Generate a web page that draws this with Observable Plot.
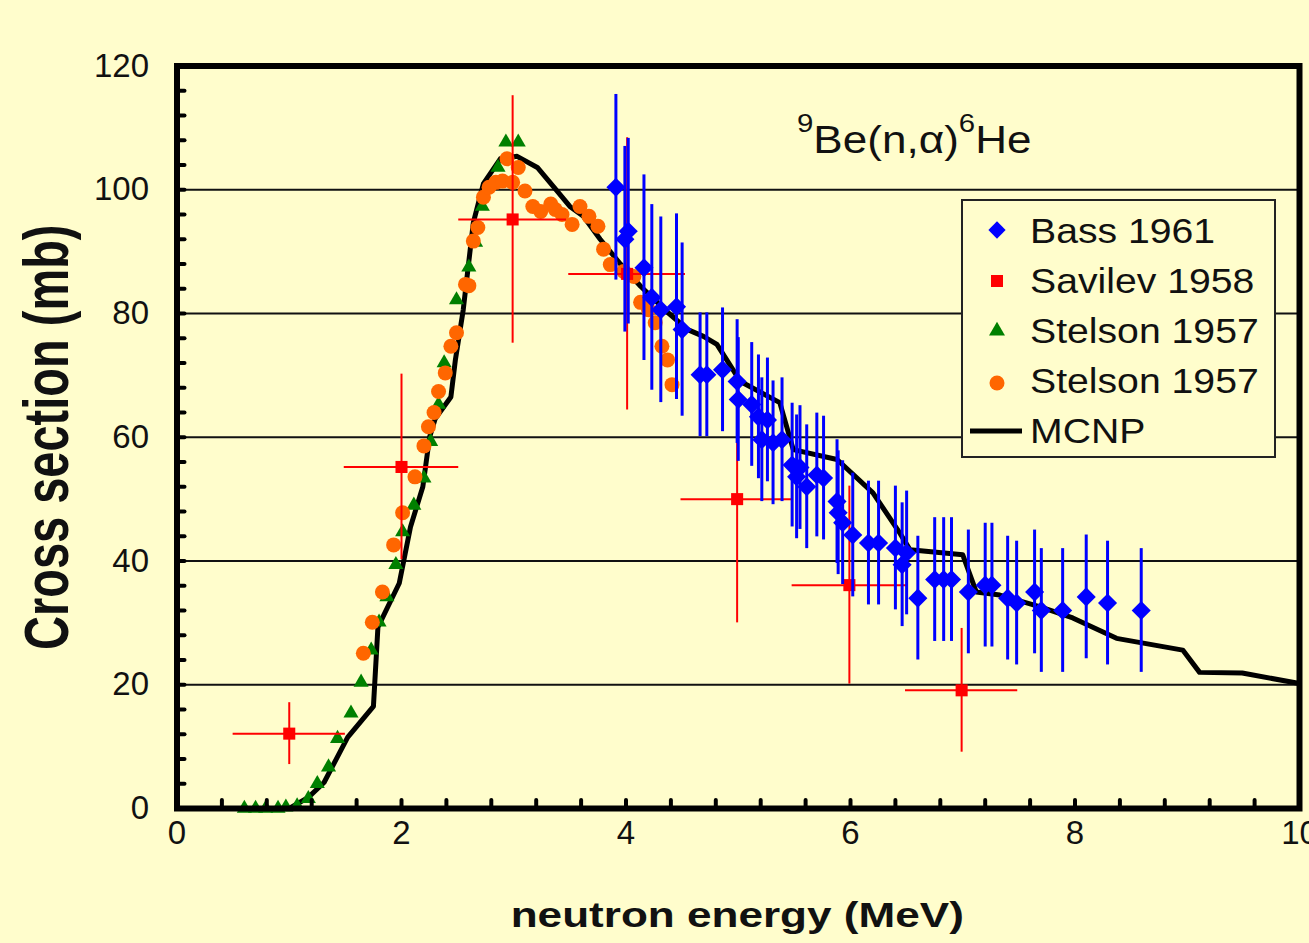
<!DOCTYPE html>
<html>
<head>
<meta charset="utf-8">
<script src="https://cdn.jsdelivr.net/npm/d3@7"></script>
<script src="https://cdn.jsdelivr.net/npm/@observablehq/plot@0.6"></script>
<style>
  html, body { margin: 0; padding: 0; background: #FFFDCC; overflow: hidden; }
  #wrap { position: relative; width: 1309px; height: 943px; }
  #overlay { position: absolute; left: 0; top: 0; pointer-events: none; }
</style>
</head>
<body>
<div id="wrap"></div>
<script>
// ---------------- data ----------------
// Bass 1961 (diamonds, vertical error bars)
const bassE   = [3.91,3.99,4.02,4.16,4.23,4.31,4.45,4.50,4.66,4.72,4.86,4.99,5.00,5.12,5.18,5.21,5.26,5.31,5.39,5.48,5.52,5.55,5.61,5.70,5.76,5.88,5.89,5.93,6.02,6.16,6.25,6.40,6.46,6.50,6.60,6.75,6.83,6.90,7.05,7.20,7.26,7.40,7.48,7.64,7.70,7.89,8.10,8.29,8.59];
const bassS   = [100.4,92.0,93.3,87.4,82.6,80.6,81.1,77.4,70.1,70.1,70.9,69.0,66.1,65.3,63.3,59.6,62.8,59.1,59.6,55.5,53.6,55.1,52.0,53.9,53.4,49.6,47.8,46.2,44.2,42.9,42.9,42.1,39.4,41.3,34.0,37.0,37.0,37.0,35.0,36.1,36.1,34.0,33.2,35.0,32.0,32.0,34.2,33.2,32.0];
const bassErr = [15,15,15,15,15,15,15,14,10,10,10,10,10,10,10,10,10,10,10,10,10,10,10,10,10,10,10,10,10,10,10,10,10,10,10,10,10,10,10,10,10,10,10,10,10,10,10,10,10];

// Savilev 1958 (squares, x and y error bars)
const savE  = [1.00, 2.00, 2.99, 4.01, 4.99, 5.99, 6.99];
const savS  = [12.1, 55.2, 95.2, 86.4, 50.0, 36.1, 19.1];
const savDE = [0.50, 0.51, 0.48, 0.52, 0.50, 0.51, 0.50];
const savDS = [5, 15, 20, 22, 20, 16, 10];

// Stelson 1957 (triangles)
const triE = [0.60,0.70,0.79,0.90,0.97,1.07,1.17,1.25,1.35,1.43,1.55,1.64,1.73,1.80,1.87,1.95,2.01,2.11,2.20,2.26,2.33,2.38,2.49,2.60,2.66,2.72,2.86,2.93,3.04];
const triS = [0.0,0.0,0.0,0.0,0.2,0.4,1.6,4.0,6.7,11.3,15.4,20.4,25.6,30.1,34.2,39.4,44.7,49.0,53.4,59.3,65.3,72.0,82.2,87.5,91.5,97.3,103.6,107.7,107.7];

// Stelson 1957 (circles)
const cirE = [1.66,1.74,1.83,1.93,2.01,2.12,2.20,2.24,2.29,2.33,2.39,2.44,2.49,2.57,2.60,2.64,2.68,2.73,2.78,2.84,2.90,2.94,2.99,3.04,3.10,3.17,3.24,3.33,3.37,3.43,3.52,3.59,3.67,3.75,3.80,3.86,3.98,4.07,4.13,4.20,4.26,4.32,4.37,4.41];
const cirS = [25.1,30.1,35.0,42.6,47.8,53.6,58.6,61.7,64.0,67.4,70.4,74.7,76.9,84.7,84.5,91.7,93.9,98.8,100.4,101.2,101.4,105.0,101.2,103.6,99.8,97.3,96.5,97.7,96.8,96.0,94.4,97.3,95.7,94.1,90.4,87.9,86.8,86.0,81.8,80.6,78.5,74.7,72.5,68.5];

// MCNP (line)
const mcnpE = [0.60,1.00,1.17,1.31,1.52,1.75,1.79,1.98,2.08,2.19,2.25,2.30,2.44,2.48,2.55,2.64,2.73,2.88,3.03,3.21,3.35,3.50,3.62,3.77,3.95,4.13,4.37,4.55,4.69,4.81,5.02,5.37,5.49,5.88,6.20,6.44,6.53,7.00,7.12,7.33,7.69,7.98,8.37,8.96,9.11,9.49,10.0];
const mcnpS = [0.0,0.0,1.8,4.2,11.5,16.5,29.3,36.4,45.5,52.0,60.0,63.0,66.5,72.5,80.6,94.7,101.0,105.0,105.4,103.6,100.6,97.3,95.7,92.0,88.0,84.4,80.2,77.4,76.3,75.0,69.0,65.6,58.0,56.4,51.0,44.5,41.8,41.0,35.0,34.5,32.6,30.8,27.5,25.6,22.0,21.9,20.2];

// axes
const xLabelTicks = [0, 2, 4, 6, 8, 10];
const yLabelTicks = [0, 20, 40, 60, 80, 100, 120];
const xMinorTicks = [0.4,0.8,1.2,1.6,2.0,2.4,2.8,3.2,3.6,4.0,4.4,4.8,5.2,5.6,6.0,6.4,6.8,7.2,7.6,8.0,8.4,8.8,9.2,9.6];
const yMinorTicks = [4,8,12,16,20,24,28,32,36,40,44,48,52,56,60,64,68,72,76,80,84,88,92,96,100,104,108,112,116];
const gridY = [20, 40, 60, 80, 100];

const xTitle = "neutron energy (MeV)";
const yTitle = "Cross section (mb)";
const seriesNames = ["Bass 1961", "Savilev 1958", "Stelson 1957", "Stelson 1957", "MCNP"];

// ---------------- tables ----------------
const bass = bassE.map((e, i) => ({E: e, S: bassS[i], err: bassErr[i]}));
const sav = savE.map((e, i) => ({E: e, S: savS[i], dE: savDE[i], dS: savDS[i]}));
const tri = triE.map((e, i) => ({E: e, S: triS[i]}));
const cir = cirE.map((e, i) => ({E: e, S: cirS[i]}));
const mcnp = mcnpE.map((e, i) => ({E: e, S: mcnpS[i]}));

const BG = "#FFFDCC";
const INK = "#111";
const FONT = "'Liberation Sans', Arial, sans-serif";

const chart = Plot.plot({
  width: 1309,
  height: 943,
  marginLeft: 176.5,
  marginRight: 10,
  marginTop: 65.5,
  marginBottom: 135,
  style: {background: BG, color: INK, fontFamily: FONT, fontSize: "33px"},
  x: {domain: [0, 10]},
  y: {domain: [0, 120]},
  marks: [
    Plot.ruleY(gridY, {stroke: INK, strokeWidth: 2}),
    Plot.line(mcnp, {x: "E", y: "S", stroke: "#000", strokeWidth: 5, strokeLinejoin: "round"}),
    Plot.dot(tri, {x: "E", y: "S", symbol: "triangle", r: 5.6, fill: "#008000"}),
    Plot.dot(cir, {x: "E", y: "S", r: 7.5, fill: "#FF6600"}),
    Plot.ruleX(sav, {x: "E", y1: d => d.S - d.dS, y2: d => d.S + d.dS, stroke: "#FF0000", strokeWidth: 2}),
    Plot.ruleY(sav, {y: "S", x1: d => d.E - d.dE, x2: d => d.E + d.dE, stroke: "#FF0000", strokeWidth: 2}),
    Plot.dot(sav, {x: "E", y: "S", symbol: "square", r: 6.8, fill: "#FF0000"}),
    Plot.ruleX(bass, {x: "E", y1: d => d.S - d.err, y2: d => d.S + d.err, stroke: "#0000FF", strokeWidth: 3}),
    Plot.dot(bass, {x: "E", y: "S", symbol: "diamond2", r: 8.6, fill: "#0000FF"}),
    Plot.frame({stroke: "#000", strokeWidth: 6}),
    Plot.axisX(xMinorTicks, {tickSize: 8, dy: -8, text: null, label: null, stroke: "#000", strokeWidth: 4, strokeLinecap: "round"}),
    Plot.axisY(yMinorTicks, {tickSize: 8, dx: 8, text: null, label: null, stroke: "#000", strokeWidth: 4, strokeLinecap: "round"}),
    Plot.axisX(xLabelTicks, {tickSize: 0, tickPadding: 12, label: null, fontSize: 33, tickFormat: d => String(d)}),
    Plot.axisY(yLabelTicks, {tickSize: 0, tickPadding: 28, label: null, fontSize: 33, tickFormat: d => String(d)}),
    Plot.text([xTitle], {frameAnchor: "bottom", dy: 118, dx: -1, text: d => d, textAnchor: "middle", fontSize: 35, fontWeight: "bold", fill: INK}),
    Plot.text([yTitle], {frameAnchor: "left", dx: -129.5, rotate: -90, text: d => d, textAnchor: "middle", fontSize: 47, fontWeight: "bold", fill: INK})
  ]
});

const wrap = document.getElementById("wrap");
wrap.appendChild(chart);

// horizontal stretch of the axis titles (the original fonts are wider)
function stretch(label, sx, sy) {
  d3.select(chart).selectAll("text").each(function() {
    if (this.textContent !== label) return;
    let t = this.getAttribute("transform");
    if (!t) {
      const x = this.getAttribute("x") || 0, y = this.getAttribute("y") || 0;
      this.removeAttribute("x"); this.removeAttribute("y");
      t = `translate(${x},${y})`;
    }
    this.setAttribute("transform", `${t} scale(${sx},${sy})`);
  });
}
stretch(xTitle, 1.26, 1);
stretch(yTitle, 1, 1.34);

// ---------------- legend + title overlay ----------------
const ov = d3.select(wrap).append("svg")
  .attr("id", "overlay").attr("width", 1309).attr("height", 943)
  .style("font-family", FONT);

// title 9Be(n,α)6He
const title = ov.append("text").attr("transform", "translate(797,153) scale(1.13,1)").attr("fill", INK);
title.append("tspan").attr("font-size", 26).attr("dy", -21).text("9");
title.append("tspan").attr("font-size", 39).attr("dy", 21).text("Be(n,α)");
title.append("tspan").attr("font-size", 26).attr("dy", -21).text("6");
title.append("tspan").attr("font-size", 39).attr("dy", 21).text("He");

// legend box
ov.append("rect").attr("x", 962).attr("y", 200).attr("width", 313).attr("height", 257)
  .attr("fill", BG).attr("stroke", "#222").attr("stroke-width", 2);
const mx = 997;
ov.append("path").attr("d", d3.symbol(d3.symbolDiamond2, 190)()).attr("transform", `translate(${mx},230)`).attr("fill", "#0000FF");
ov.append("path").attr("d", d3.symbol(d3.symbolSquare, 144)()).attr("transform", `translate(${mx},281)`).attr("fill", "#FF0000");
ov.append("path").attr("d", d3.symbol(d3.symbolTriangle, 110)()).attr("transform", `translate(${mx},331)`).attr("fill", "#008000");
ov.append("circle").attr("cx", mx).attr("cy", 383).attr("r", 7.5).attr("fill", "#FF6600");
ov.append("line").attr("x1", 970).attr("x2", 1022).attr("y1", 431).attr("y2", 431).attr("stroke", "#000").attr("stroke-width", 5);
const baselines = [243, 293, 343, 393, 443];
seriesNames.forEach((name, i) => {
  ov.append("text").attr("transform", `translate(1030,${baselines[i]}) scale(1.12,1)`)
    .attr("font-size", 35).attr("fill", INK).text(name);
});
</script>
</body>
</html>
